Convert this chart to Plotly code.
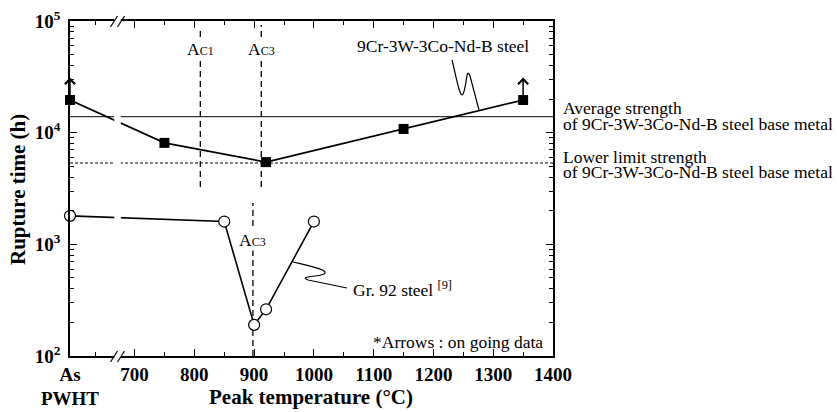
import math
import plotly.graph_objects as go

# ---------------- data ----------------
AS_PWHT = "As PWHT"
AS_PWHT_POS = 592          # where the "As PWHT" category sits on the broken axis

cr_temps = [AS_PWHT, 750, 920, 1150, 1350]
cr_hours = [19600, 8100, 5450, 10800, 19600]
cr_ongoing = [True, False, False, False, True]

gr_temps = [AS_PWHT, 850, 900, 920, 1000]
gr_hours = [1800, 1600, 190, 262, 1600]

avg_strength = 13900
lower_limit = 5350

ac1_cr = 810
ac3_cr = 912
ac3_gr = 898

x_ticks = [700, 800, 900, 1000, 1100, 1200, 1300, 1400]
x_minor = [635, 750, 850, 950, 1050, 1150, 1250, 1350]
y_ticks = [1e2, 1e3, 1e4, 1e5]
y_ticktext = ["10<sup>2</sup>", "10<sup>3</sup>", "10<sup>4</sup>", "10<sup>5</sup>"]
break_lo, break_hi = 666, 677

X_MIN, X_MAX = AS_PWHT_POS, 1400
Y_MIN, Y_MAX = 1e2, 1e5

FONT = "Liberation Serif"
W, H = 837, 412
ML, MR, MT, MB = 70, 284, 21, 56
PW, PH = W - ML - MR, H - MT - MB


def xpos(t):
    return AS_PWHT_POS if t == AS_PWHT else t


def px2paper(px, py):
    return (px - ML) / PW, (H - MB - py) / PH


def path_from_px(pts):
    s = ""
    for cmd, coords in pts:
        conv = []
        for i in range(0, len(coords), 2):
            a, b = px2paper(coords[i], coords[i + 1])
            conv.append(f"{a:.4f},{b:.4f}")
        s += cmd + " " + " ".join(conv) + " "
    return s.strip()


fig = go.Figure()

# horizontal strength levels
fig.add_trace(go.Scatter(x=[X_MIN, X_MAX], y=[avg_strength] * 2, mode="lines",
                         line=dict(color="black", width=1), showlegend=False, hoverinfo="skip"))
fig.add_trace(go.Scatter(x=[X_MIN, X_MAX], y=[lower_limit] * 2, mode="lines",
                         line=dict(color="black", width=1, dash="3px,2px"), showlegend=False, hoverinfo="skip"))

# transformation temperature lines
fig.add_trace(go.Scatter(x=[ac1_cr, ac1_cr], y=[3270, 85000], mode="lines",
                         line=dict(color="black", width=1.3, dash="6px,4px"), showlegend=False, hoverinfo="skip"))
fig.add_trace(go.Scatter(x=[ac3_cr, ac3_cr], y=[3270, 92000], mode="lines",
                         line=dict(color="black", width=1.3, dash="6px,4px"), showlegend=False, hoverinfo="skip"))
fig.add_trace(go.Scatter(x=[ac3_gr, ac3_gr], y=[Y_MIN, 2350], mode="lines",
                         line=dict(color="black", width=1.3, dash="6px,4px"), showlegend=False, hoverinfo="skip"))

# Gr. 92 steel
fig.add_trace(go.Scatter(x=[xpos(t) for t in gr_temps], y=gr_hours, mode="lines+markers",
                         line=dict(color="black", width=1.6),
                         marker=dict(symbol="circle", size=11, color="white", line=dict(color="black", width=1.2)),
                         cliponaxis=False, showlegend=False))

# 9Cr-3W-3Co-Nd-B steel
fig.add_trace(go.Scatter(x=[xpos(t) for t in cr_temps], y=cr_hours, mode="lines+markers",
                         line=dict(color="black", width=1.8),
                         marker=dict(symbol="square", size=10, color="black"),
                         cliponaxis=False, showlegend=False))

# ongoing arrows
for t, h, on in zip(cr_temps, cr_hours, cr_ongoing):
    if on:
        fig.add_annotation(x=xpos(t), y=math.log10(h), xref="x", yref="y", text="",
                           showarrow=True, ax=0, ay=-24, arrowside="start",
                           startarrowhead=4, startarrowsize=1.3, arrowwidth=1.5, arrowcolor="black")

small = "font-size:12px"
ann_font = dict(family=FONT, size=17.5, color="black")


def note(**kw):
    base = dict(showarrow=False, font=ann_font, xanchor="center", yanchor="middle")
    base.update(kw)
    fig.add_annotation(**base)


note(x=ac1_cr, y=4.75, text=f"A<span style='{small}'>C1</span>", bgcolor="white", borderpad=0)
note(x=ac3_cr, y=4.75, text=f"A<span style='{small}'>C3</span>", bgcolor="white", borderpad=0)
note(x=ac3_gr, y=3.04, text=f"A<span style='{small}'>C3</span>", bgcolor="white", borderpad=0)

note(xref="paper", yref="paper", x=px2paper(443, 0)[0], y=px2paper(0, 46)[1],
     text="9Cr-3W-3Co-Nd-B steel")
note(xref="paper", yref="paper", x=px2paper(351, 0)[0], y=px2paper(0, 289)[1], xanchor="left",
     text="Gr. 92 steel <sup style='font-size:11px'>[9]</sup>")
note(xref="paper", yref="paper", x=px2paper(545, 0)[0], y=px2paper(0, 342)[1], xanchor="right",
     text="*Arrows : on going data")

# right-side labels anchored to the strength levels
rx = 1 + 8 / PW
for lvl, first, up, down in [(avg_strength, "Average strength", 8.5, -7),
                             (lower_limit, "Lower limit strength", 6.5, -8.5)]:
    note(xref="paper", yref="y", x=rx, y=math.log10(lvl), yshift=up, xanchor="left", text=first)
    note(xref="paper", yref="y", x=rx, y=math.log10(lvl), yshift=down, xanchor="left",
         text="of 9Cr-3W-3Co-Nd-B steel base metal")

# axis titles
title_font = dict(family=FONT, size=21, color="black")
note(xref="paper", yref="paper", x=px2paper(311, 0)[0], y=px2paper(0, 397)[1],
     text="<b>Peak temperature (°C)</b>", font=title_font)
note(xref="paper", yref="paper", x=px2paper(18, 0)[0], y=px2paper(0, 190)[1],
     text="<b>Rupture time (h)</b>", textangle=-90, font=title_font)

# leader squiggles
shapes = []
shapes.append(dict(type="path", xref="paper", yref="paper", line=dict(color="black", width=1.2),
                   path=path_from_px([("M", [452, 60]), ("C", [457, 80, 460, 99, 463, 94]),
                                      ("C", [467, 86, 466, 66, 470, 76]), ("L", [479, 110])])))
shapes.append(dict(type="path", xref="paper", yref="paper", line=dict(color="black", width=1.2),
                   path=path_from_px([("M", [293, 262]), ("C", [310, 266, 330, 270, 324, 274]),
                                      ("C", [318, 277, 298, 276, 308, 280]), ("L", [347, 288])])))

# axis break
shapes.append(dict(type="rect", xref="x", yref="paper", x0=break_lo, x1=break_hi, y0=-0.03, y1=1.03,
                   fillcolor="white", line=dict(width=0), layer="above"))
bc = (break_lo + break_hi) / 2
for ya in (0, 1):
    for dx in (-7, 0):
        shapes.append(dict(type="line", xref="x", yref="paper", xsizemode="pixel", ysizemode="pixel",
                           xanchor=bc, yanchor=ya, x0=dx, x1=dx + 7, y0=-6, y1=5,
                           line=dict(color="black", width=1.2), layer="above"))

tick_font = dict(family=FONT, size=19, color="black")
fig.update_layout(
    template="none",
    width=W, height=H, margin=dict(l=ML, r=MR, t=MT, b=MB, autoexpand=False),
    paper_bgcolor="white", plot_bgcolor="white",
    font=dict(family=FONT, color="black"),
    shapes=shapes, showlegend=False,
    xaxis=dict(range=[X_MIN, X_MAX], showgrid=False, zeroline=False, automargin=False,
               showline=True, linecolor="black", linewidth=1.5, mirror="ticks",
               ticks="inside", ticklen=7, tickwidth=1, tickcolor="black",
               tickvals=[AS_PWHT_POS] + x_ticks,
               ticktext=["<b>As</b><br><b>PWHT</b>"] + [f"<b>{v}</b>" for v in x_ticks],
               tickfont=tick_font,
               minor=dict(tickvals=x_minor, ticks="inside", ticklen=4, tickcolor="black", showgrid=False)),
    yaxis=dict(type="log", range=[math.log10(Y_MIN), math.log10(Y_MAX)], showgrid=False, zeroline=False,
               automargin=False,
               showline=True, linecolor="black", linewidth=1.5, mirror="ticks",
               ticks="inside", ticklen=7, tickwidth=1, tickcolor="black",
               tickvals=y_ticks, ticktext=[f"<b>{t}</b>" for t in y_ticktext], tickfont=tick_font,
               ticklabelstandoff=4,
               minor=dict(tickvals=[m * 10 ** e for e in (2, 3, 4) for m in range(2, 10)],
                          ticks="inside", ticklen=4, tickcolor="black", showgrid=False)),
)

fig.write_html("out.html", config={"displayModeBar": False},
               post_script="document.body.style.margin='0';")
